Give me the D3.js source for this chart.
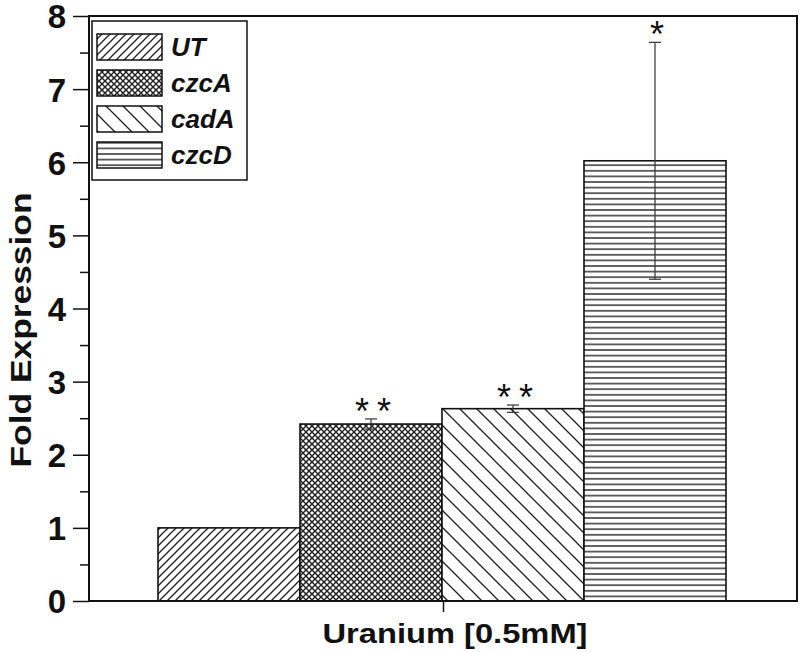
<!DOCTYPE html>
<html><head><meta charset="utf-8">
<script src="https://cdn.jsdelivr.net/npm/d3@7"></script>
<style>body{margin:0;background:#fff}svg{display:block}text{font-family:"Liberation Sans",Arial,sans-serif}</style>
</head><body><svg id="c" width="800" height="652"></svg>
<script>
const categories = ["UT","czcA","cadA","czcD"];
const values = [1.0, 2.42, 2.63, 6.02];
const errors = [0, 0.07, 0.05, 1.62];
const stars = ["", "**", "**", "*"];
const patterns = ["diagUp","cross","diagDownWide","horiz"];
const yTicks = [0,1,2,3,4,5,6,7,8];
const groupLabel = "Uranium [0.5mM]";
const yTitle = "Fold Expression";

const svg = d3.select("#c");
const L=89, R=797, T=16, B=601;
const y = d3.scaleLinear().domain([0,8]).range([B,T]);
const x = d3.scaleBand().domain(categories).range([158,726]).paddingInner(0).paddingOuter(0);
const xc = d3.scalePoint().domain([groupLabel]).range([L,R]).padding(0.5);

// patterns
const defs = svg.append("defs");
function pat(id,w,h,draw){
  const p=defs.append("pattern").attr("id",id).attr("patternUnits","userSpaceOnUse").attr("width",w).attr("height",h);
  p.append("rect").attr("width",w).attr("height",h).attr("fill","#fff");
  draw(p);
}
pat("diagUp",8,8,p=>{
  [[0,8,8,0],[-2,2,2,-2],[6,10,10,6]].forEach(a=>p.append("line").attr("x1",a[0]).attr("y1",a[1]).attr("x2",a[2]).attr("y2",a[3]).attr("stroke","#222").attr("stroke-width",1.3));
});
pat("diagDownWide",17,17,p=>{
  [[0,0,17,17],[-2,15,2,19],[15,-2,19,2]].forEach(a=>p.append("line").attr("x1",a[0]).attr("y1",a[1]).attr("x2",a[2]).attr("y2",a[3]).attr("stroke","#222").attr("stroke-width",1.3));
});
pat("cross",6,6,p=>{
  [[0,6,6,0],[-1,1,1,-1],[5,7,7,5],[0,0,6,6],[-1,5,1,7],[5,-1,7,1]].forEach(a=>p.append("line").attr("x1",a[0]).attr("y1",a[1]).attr("x2",a[2]).attr("y2",a[3]).attr("stroke","#222").attr("stroke-width",1.4));
});
pat("horiz",6,5.6,p=>{
  p.append("line").attr("x1",0).attr("x2",6).attr("y1",2.8).attr("y2",2.8).attr("stroke","#333").attr("stroke-width",1.5);
});

// bars
svg.selectAll("rect.bar").data(categories).join("rect").attr("class","bar")
  .attr("x",d=>x(d)).attr("width",x.bandwidth())
  .attr("y",(d,i)=>y(values[i])).attr("height",(d,i)=>y(0)-y(values[i]))
  .attr("fill",(d,i)=>`url(#${patterns[i]})`).attr("stroke","#111").attr("stroke-width",1.6);

// error bars + significance stars
categories.forEach((c,i)=>{
  if(!errors[i]) return;
  const cx=x(c)+x.bandwidth()/2, hi=y(values[i]+errors[i]), lo=y(values[i]-errors[i]);
  const g=svg.append("g").attr("stroke","#333").attr("stroke-width",1.2);
  g.append("line").attr("x1",cx).attr("x2",cx).attr("y1",hi).attr("y2",lo);
  g.append("line").attr("x1",cx-6).attr("x2",cx+6).attr("y1",hi).attr("y2",hi);
  g.append("line").attr("x1",cx-6).attr("x2",cx+6).attr("y1",lo).attr("y2",lo);
  const fs=36, centerY = hi-15;
  const chars = stars[i].split("");
  chars.forEach((s,k)=>{
    const off = (k-(chars.length-1)/2)*22;
    svg.append("text").attr("x",cx+2+off).attr("y",centerY+0.56*fs).attr("text-anchor","middle")
      .attr("font-size",fs).attr("fill","#111").text(s);
  });
});

// axes
const yAxis = d3.axisLeft(y).tickValues(yTicks).tickSize(16).tickPadding(7).tickFormat(d3.format("d"));
const gy = svg.append("g").attr("transform",`translate(${L},0)`).call(yAxis);
gy.select(".domain").remove();
gy.selectAll(".tick line").attr("stroke","#111").attr("stroke-width",1.5);
gy.selectAll("text").attr("font-size",33).attr("font-weight","bold").attr("fill","#111").attr("dy","0.36em");
const gm = svg.append("g").attr("transform",`translate(${L},0)`)
  .call(d3.axisLeft(y).tickValues(d3.range(0.5,8,1)).tickSize(9).tickFormat(""));
gm.select(".domain").remove();
gm.selectAll(".tick line").attr("stroke","#111").attr("stroke-width",1.5);

const gx = svg.append("g").attr("transform",`translate(0,${B})`).call(d3.axisBottom(xc).tickSize(11).tickFormat(""));
gx.select(".domain").remove();
gx.selectAll(".tick line").attr("stroke","#111").attr("stroke-width",1.5);

// frame
svg.append("path").attr("d",`M${L},${T}H${R}V${B}H${L}Z`).attr("fill","none").attr("stroke","#111").attr("stroke-width",2);

// titles
svg.append("text").attr("x",xc(groupLabel)+12).attr("y",643).attr("text-anchor","middle")
  .attr("font-size",28).attr("font-weight","bold").attr("fill","#111")
  .attr("textLength",265).attr("lengthAdjust","spacingAndGlyphs").text(groupLabel);
svg.append("text").attr("transform","translate(31,330) rotate(-90)").attr("text-anchor","middle")
  .attr("font-size",30).attr("font-weight","bold").attr("fill","#111")
  .attr("textLength",275).attr("lengthAdjust","spacingAndGlyphs").text(yTitle);

// legend
const lg = svg.append("g");
lg.append("rect").attr("x",92).attr("y",21).attr("width",155).attr("height",159).attr("fill","#fff").attr("stroke","#111").attr("stroke-width",1.5);
categories.forEach((c,i)=>{
  const yy = 34 + i*36;
  lg.append("rect").attr("x",97).attr("y",yy).attr("width",65).attr("height",26)
    .attr("fill",`url(#${patterns[i]})`).attr("stroke","#111").attr("stroke-width",1.5);
  lg.append("text").attr("x",171).attr("y",yy+22).attr("font-size",26).attr("font-weight","bold")
    .attr("font-style","italic").attr("fill","#111").text(c);
});
</script></body></html>
